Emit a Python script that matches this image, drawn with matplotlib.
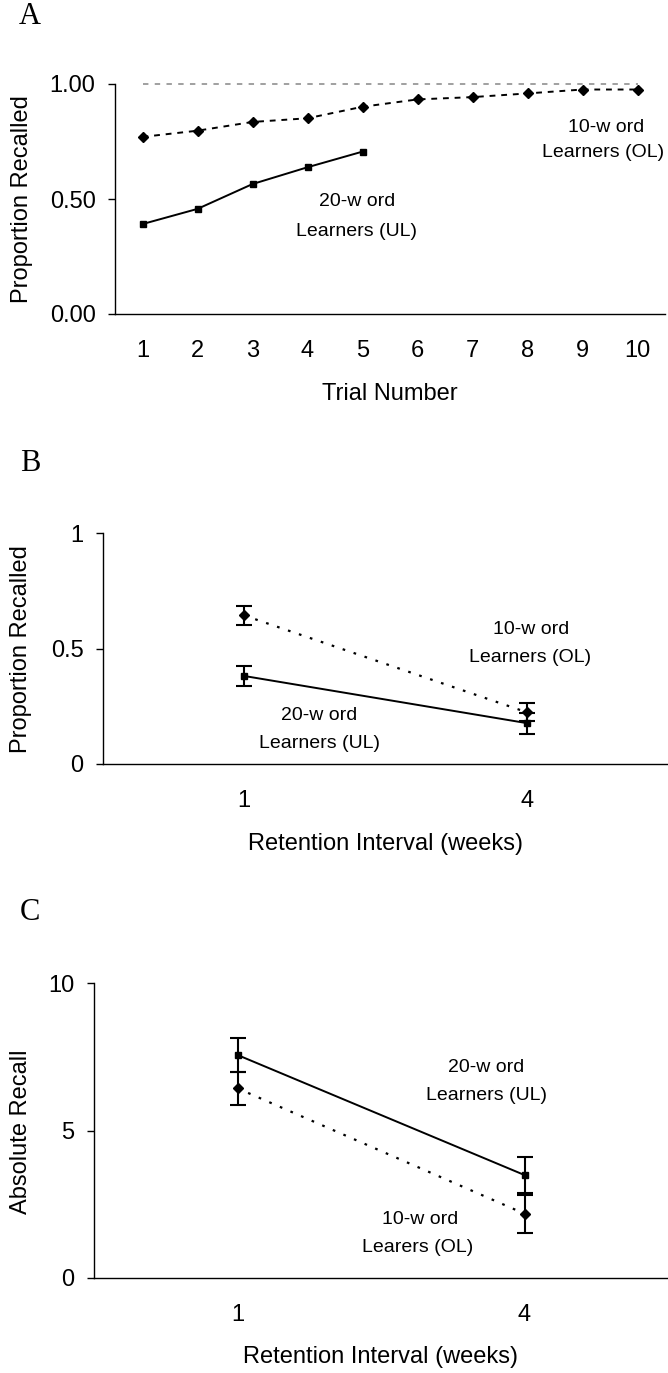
"""
plot.py
-------
Three-panel figure: recall over learning trials (A), proportion recalled
after the retention interval (B) and absolute recall (C).
"""

import matplotlib
matplotlib.use("Agg")
import matplotlib.pyplot as plt

plt.rcParams["font.family"] = ["Liberation Sans", "DejaVu Sans"]

# Panel A: learning trials
trials = [1, 2, 3, 4, 5, 6, 7, 8, 9, 10]
ol_trial = [0.77, 0.797, 0.835, 0.851, 0.901, 0.933, 0.943, 0.959, 0.976, 0.976]
ul_trials = [1, 2, 3, 4, 5]
ul_trial = [0.391, 0.457, 0.565, 0.638, 0.706]
ceiling = [1.0] * 10

# Panels B and C: retention interval
weeks = ["1", "4"]
week_pos = [1, 2]
ol_prop = [0.643, 0.224]
ol_prop_err = [0.041, 0.040]
ul_prop = [0.381, 0.177]
ul_prop_err = [0.044, 0.045]

ul_abs = [7.56, 3.49]
ul_abs_err = [0.57, 0.62]
ol_abs = [6.43, 2.18]
ol_abs_err = [0.55, 0.65]

W, H = 668, 1373
TICK_FS = 17
NOTE_FS = 14


def rect(left, right, top, bottom):
    return [left / W, 1 - bottom / H, (right - left) / W, (bottom - top) / H]


def ftext(fig, x, y, s, **kw):
    fig.text(x / W, 1 - y / H, s, ha="center", va="center", **kw)


def style_axes(ax, yticks, ylabels):
    for side in ("top", "right"):
        ax.spines[side].set_visible(False)
    for side in ("left", "bottom"):
        ax.spines[side].set_linewidth(1.0)
    ax.set_yticks(yticks)
    ax.set_yticklabels(ylabels)
    ax.tick_params(axis="y", direction="out", length=5, width=1,
                   pad=9, labelsize=TICK_FS)
    ax.tick_params(axis="x", length=0, pad=19, labelsize=TICK_FS)


fig = plt.figure(figsize=(W / 100, H / 100), dpi=100)
letter_kw = dict(family=["Liberation Serif", "DejaVu Serif"], fontsize=22)

# ---------------- Panel A ----------------
ax = fig.add_axes(rect(115, 665, 84, 314))
ax.plot(trials, ceiling, color="#999999", linestyle=(0, (3, 3.5)), linewidth=1.3,
        clip_on=False)
ax.plot(trials, ol_trial, color="black", linestyle=(0, (3, 3)), linewidth=1.4,
        marker="D", markersize=5.5, clip_on=False)
ax.plot(ul_trials, ul_trial, color="black", linestyle="-", linewidth=1.4,
        marker="s", markersize=5, clip_on=False)
ax.set_xlim(0.5, 10.5)
ax.set_ylim(0, 1)
ax.set_xticks(trials)
style_axes(ax, [0, 0.5, 1.0], ["0.00", "0.50", "1.00"])
ax.text(4.9, 0.487, "20-w ord", ha="center", va="center", fontsize=NOTE_FS)
ax.text(4.9, 0.357, "Learners (UL)", ha="center", va="center", fontsize=NOTE_FS)
ax.text(9.43, 0.813, "10-w ord", ha="center", va="center", fontsize=NOTE_FS)
ax.text(10.49, 0.704, "Learners (OL)", ha="right", va="center", fontsize=NOTE_FS,
        clip_on=False)
ftext(fig, 30, 16, "A", **letter_kw)
ftext(fig, 22, 199, "Proportion Recalled", rotation=90, fontsize=TICK_FS)
ftext(fig, 390, 394, "Trial Number", fontsize=TICK_FS)

# ---------------- Panel B ----------------
ax = fig.add_axes(rect(103, 668, 533, 764))
ax.errorbar(week_pos, ol_prop, yerr=ol_prop_err, color="black",
            linestyle=(0, (1.2, 4)), linewidth=1.6, marker="D", markersize=5.5,
            capsize=5.5, elinewidth=1.5, capthick=1.5, clip_on=False)
ax.errorbar(week_pos, ul_prop, yerr=ul_prop_err, color="black", linestyle="-",
            linewidth=1.4, marker="s", markersize=5, capsize=5.5,
            elinewidth=1.5, capthick=1.5, clip_on=False)
ax.set_xlim(0.5, 2.5)
ax.set_ylim(0, 1)
ax.set_xticks(week_pos)
ax.set_xticklabels(weeks)
style_axes(ax, [0, 0.5, 1], ["0", "0.5", "1"])
ax.text(2.015, 0.584, "10-w ord", ha="center", va="center", fontsize=NOTE_FS)
ax.text(2.01, 0.463, "Learners (OL)", ha="center", va="center", fontsize=NOTE_FS)
ax.text(1.265, 0.208, "20-w ord", ha="center", va="center", fontsize=NOTE_FS)
ax.text(1.265, 0.087, "Learners (UL)", ha="center", va="center", fontsize=NOTE_FS)
ftext(fig, 30, 463, "B", **letter_kw)
ftext(fig, 21, 649, "Proportion Recalled", rotation=90, fontsize=TICK_FS)
ftext(fig, 385, 844, "Retention Interval (weeks)", fontsize=TICK_FS)

# ---------------- Panel C ----------------
ax = fig.add_axes(rect(94, 668, 983, 1278))
ax.errorbar(week_pos, ol_abs, yerr=ol_abs_err, color="black",
            linestyle=(0, (1.2, 4)), linewidth=1.6, marker="D", markersize=5.5,
            capsize=5.5, elinewidth=1.5, capthick=1.5, clip_on=False)
ax.errorbar(week_pos, ul_abs, yerr=ul_abs_err, color="black", linestyle="-",
            linewidth=1.4, marker="s", markersize=5, capsize=5.5,
            elinewidth=1.5, capthick=1.5, clip_on=False)
ax.set_xlim(0.5, 2.5)
ax.set_ylim(0, 10)
ax.set_xticks(week_pos)
ax.set_xticklabels(weeks)
style_axes(ax, [0, 5, 10], ["0", "5", "10"])
ax.text(1.866, 7.15, "20-w ord", ha="center", va="center", fontsize=NOTE_FS)
ax.text(1.866, 6.20, "Learners (UL)", ha="center", va="center", fontsize=NOTE_FS)
ax.text(1.636, 1.97, "10-w ord", ha="center", va="center", fontsize=NOTE_FS)
ax.text(1.629, 1.02, "Learers (OL)", ha="center", va="center", fontsize=NOTE_FS)
ftext(fig, 30, 913, "C", **letter_kw)
ftext(fig, 21, 1132, "Absolute Recall", rotation=90, fontsize=TICK_FS)
ftext(fig, 380, 1357, "Retention Interval (weeks)", fontsize=TICK_FS)

fig.savefig("out.png", dpi=100)
